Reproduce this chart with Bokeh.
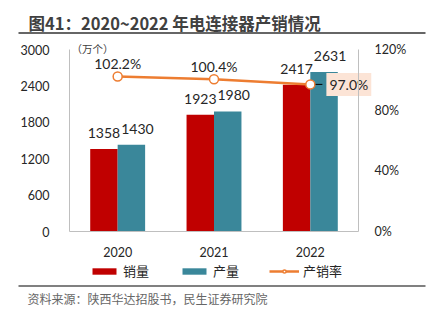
from bokeh.plotting import figure
from bokeh.models import (ColumnDataSource, Range1d, LinearAxis, FixedTicker,
                          NumeralTickFormatter, Legend, LegendItem, Label, BoxAnnotation)
from bokeh.core.properties import value
from bokeh.embed import file_html
from bokeh.resources import INLINE

# ---- data ----
years = ["2020", "2021", "2022"]
sales = [1358, 1923, 2417]        # 销量 (万个)
production = [1430, 1980, 2631]   # 产量 (万个)
ratio = [1.022, 1.004, 0.970]     # 产销率
left_ticks = [0, 600, 1200, 1800, 2400, 3000]
right_ticks = [0, 0.4, 0.8, 1.2]
title_text = "图41：2020~2022 年电连接器产销情况"
unit_text = "（万个）"
source_text = "资料来源：陕西华达招股书，民生证券研究院"

RED = "#C00000"
TEAL = "#3A879A"
ORANGE = "#ED7D31"
NUM_FONT = "Lato"
CJK = "Noto Sans CJK SC"

# ---- layout constants (pixels, from the top-left of the canvas) ----
W, H = 430, 321
AX_L, AX_R = 69, 358        # x pixels of the left / right value axes
AX_B, AX_T = 231, 49        # y pixels of value 0 and of the top tick
n = len(years)
ymax = left_ticks[-1]
pmax = right_ticks[-1]
ux = (AX_R - AX_L) / n               # pixels per category
uy = (AX_B - AX_T) / ymax            # pixels per unit (left)
up = (AX_B - AX_T) / pmax            # pixels per unit (right)

x_range = Range1d(-AX_L / ux, n + (W - AX_R) / ux)
y_range = Range1d(-(H - AX_B) / uy, ymax + AX_T / uy)

xpos = [i + 0.5 for i in range(n)]
bw = 0.285

src = ColumnDataSource(dict(
    x=xpos, xs=[v - bw / 2 for v in xpos], xp=[v + bw / 2 for v in xpos],
    sales=sales, prod=production, ratio=ratio,
    sales_lbl=[str(v) for v in sales], prod_lbl=[str(v) for v in production],
))

p = figure(x_range=x_range, y_range=y_range, width=W, height=H,
           output_backend="svg", toolbar_location=None,
           min_border=0, min_border_left=0, min_border_right=0,
           min_border_top=0, min_border_bottom=0)
p.extra_y_ranges = {"pct": Range1d(-(H - AX_B) / up, pmax + AX_T / up)}
p.outline_line_color = None
p.grid.grid_line_color = None
p.background_fill_color = "white"
p.border_fill_color = "white"

r_sales = p.vbar(x="xs", top="sales", width=bw, source=src, fill_color=RED, line_color=None)
r_prod = p.vbar(x="xp", top="prod", width=bw, source=src, fill_color=TEAL, line_color=None)

p.text(x="xs", y="sales", text="sales_lbl", source=src,
       text_align="center", text_baseline="middle", y_offset=-16,
       text_font=value(NUM_FONT), text_font_size="14px", text_color="#262626")
p.text(x="xp", y="prod", text="prod_lbl", source=src,
       text_align="center", text_baseline="middle", y_offset=-16, x_offset=6,
       text_font=value(NUM_FONT), text_font_size="14px", text_color="#262626")

r_line = p.line(x="x", y="ratio", source=src, y_range_name="pct",
                line_color=ORANGE, line_width=2.5)

first = ColumnDataSource(dict(x=xpos[:-1], ratio=ratio[:-1],
                              lbl=[f"{v*100:.1f}%" for v in ratio[:-1]]))
last = ColumnDataSource(dict(x=xpos[-1:], x1=[xpos[-1] + 0.125], ratio=ratio[-1:],
                             lbl=[f"{v*100:.1f}%" for v in ratio[-1:]]))
p.segment(x0="x", y0="ratio", x1="x1", y1="ratio", source=last, y_range_name="pct",
          line_color="black", line_width=1)
r_pts = p.scatter(x="x", y="ratio", source=src, y_range_name="pct", size=9,
                  fill_color="white", line_color=ORANGE, line_width=1.5)
p.text(x="x", y="ratio", text="lbl", source=first, y_range_name="pct",
       text_align="center", text_baseline="middle", y_offset=-13,
       text_font=value(NUM_FONT), text_font_size="14px", text_color="#262626")
p.text(x="x1", y="ratio", text="lbl", source=last, y_range_name="pct",
       text_align="left", text_baseline="middle", x_offset=4,
       text_font=value(NUM_FONT), text_font_size="14px", text_color="#262626",
       background_fill_color="#FCE4D6", padding=3)

# axes, pinned at fixed data locations
p.xaxis.ticker = FixedTicker(ticks=xpos)
p.xaxis.major_label_overrides = {x: y for x, y in zip(xpos, years)}
p.xaxis.bounds = (0, n)
p.xaxis.fixed_location = 0
p.yaxis.ticker = FixedTicker(ticks=left_ticks)
p.yaxis.bounds = (0, ymax)
p.yaxis.fixed_location = 0
ry = LinearAxis(y_range_name="pct", ticker=FixedTicker(ticks=right_ticks),
                formatter=NumeralTickFormatter(format="0%"), bounds=(0, pmax),
                fixed_location=n)
p.add_layout(ry, "right")
for ax in (p.xaxis[0], p.yaxis[0], ry):
    ax.axis_line_color = "#BFBFBF"
    ax.axis_line_width = 1
    ax.major_tick_line_color = None
    ax.minor_tick_line_color = None
    ax.major_label_text_font = NUM_FONT
    ax.major_label_text_font_size = "12.5px"
    ax.major_label_text_color = "#262626"
p.xaxis.major_label_standoff = 9
p.yaxis.major_label_standoff = 14
ry.major_label_standoff = 10

legend = Legend(items=[LegendItem(label="销量", renderers=[r_sales]),
                       LegendItem(label="产量", renderers=[r_prod]),
                       LegendItem(label="产销率", renderers=[r_line, r_pts])],
                orientation="horizontal", location=(89, 41),
                glyph_width=30, glyph_height=8, label_standoff=4, spacing=30,
                margin=0, padding=0, border_line_color=None, background_fill_alpha=0,
                label_text_font=CJK, label_text_font_size="13px", label_text_color="#262626")
p.add_layout(legend, "center")

# decorations (screen units: from the canvas bottom-left)
def hline(y_top_px, color):
    p.add_layout(BoxAnnotation(left=18, right=425, top=H - y_top_px, bottom=H - y_top_px - 2,
                               left_units="screen", right_units="screen",
                               top_units="screen", bottom_units="screen",
                               fill_color=color, fill_alpha=1, line_color=None))

p.add_layout(Label(x=28, y=H - 22, x_units="screen", y_units="screen",
                   text=title_text, text_font=CJK, text_font_size="16.5px",
                   text_font_style="bold", text_color="#404040", text_baseline="middle"))
hline(31.5, "#666666")
p.add_layout(Label(x=71, y=H - 48, x_units="screen", y_units="screen",
                   text=unit_text, text_font=CJK, text_font_size="10.5px",
                   text_color="#404040", text_baseline="middle"))
hline(284.5, "#808080")
p.add_layout(Label(x=27, y=H - 298, x_units="screen", y_units="screen",
                   text=source_text, text_font=CJK, text_font_size="12px",
                   text_color="#666666", text_baseline="middle"))

open("out.html", "w").write(file_html(p, INLINE))
